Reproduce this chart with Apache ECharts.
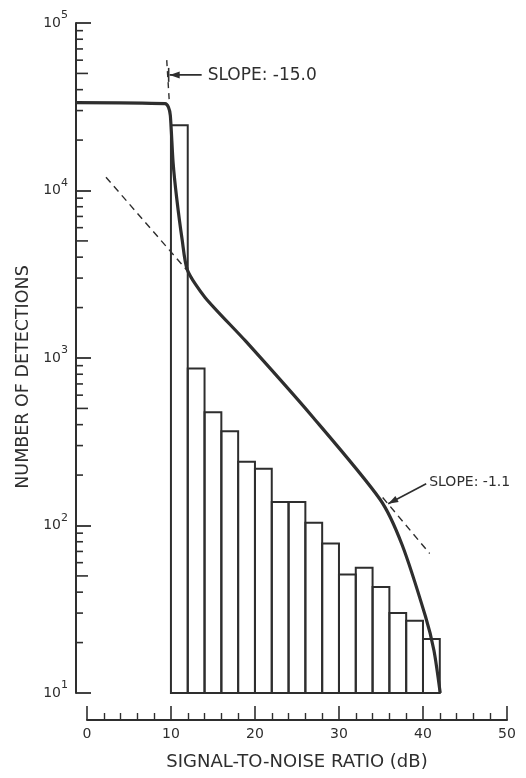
<!DOCTYPE html>
<html>
<head>
<meta charset="utf-8">
<script src="https://cdn.jsdelivr.net/npm/echarts@6/dist/echarts.min.js"></script>
<style>
html,body{margin:0;padding:0;background:#fff}
#main{width:526px;height:778px}
</style>
</head>
<body>
<div id="main"></div>
<script>
// histogram: bin edges (dB) and detections per bin
var binEdges = [10,12,14,16,18,20,22,24,26,28,30,32,34,36,38,40,42];
var binCounts = [24500,865,475,365,240,218,138,138,104,78,51,56,43,30,27,21];

// fitted curve [dB, detections]
var curve = [[-1.3,33500],[9.3,33000],[9.7,31500],[9.93,28000],[10.26,14600],[10.67,9150],
  [11.34,5060],[11.96,3350],[14.06,2300],[18.9,1260],[26.8,449],[34.9,143],
  [37.5,77],[40.3,28.6],[41.3,18],[42.05,10]];

// dashed tangents
var tangentSteep = [[9.5,60000],[9.82,33000]];
var tangentUpper = [[2.27,12000],[12,3300]];
var tangentLower = [[35.2,147],[40.8,68]];

// minor tick multipliers on the log axis
var decades = [10,100,1000,10000];
var multipliers = [2,3,4,5,6,7,8,9];

var slopeNotes = [
  {text:'SLOPE: -15.0', at:[9.61,49000]},
  {text:'SLOPE: -1.1', at:[35.5,135]}
];

var ink = '#2e2e2e';
var font = 'DejaVu Sans';
var X_MIN = -1.3;

var chart = echarts.init(document.getElementById('main'));

var minorTicks = [];
decades.forEach(function(d){
  multipliers.forEach(function(m){ minorTicks.push([X_MIN, d*m, m]); });
});

var bars = binCounts.map(function(c,i){ return [binEdges[i], binEdges[i+1], c]; });

var option = {
  backgroundColor:'#fff',
  animation:false,
  grid:[
    {left:76, right:19, top:23, bottom:85},
    {left:87, right:19, top:693, bottom:58}
  ],
  xAxis:[
    {type:'value', gridIndex:0, min:X_MIN, max:50, show:false},
    {type:'value', gridIndex:1, min:0, max:50, interval:10, position:'bottom',
     axisLine:{show:true, lineStyle:{color:ink, width:2}},
     axisTick:{show:true, inside:true, length:14, lineStyle:{color:ink, width:1.6}},
     minorTick:{show:true, splitNumber:5, length:7, lineStyle:{color:ink, width:1.4}},
     splitLine:{show:false},
     axisLabel:{margin:7, fontSize:14, color:ink, fontFamily:font}
    }
  ],
  yAxis:[
    {type:'log', gridIndex:0, min:10, max:100000, logBase:10,
     axisLine:{show:true, onZero:false, lineStyle:{color:ink, width:2}},
     axisTick:{show:true, inside:true, length:15, lineStyle:{color:ink, width:1.8}},
     splitLine:{show:false},
     axisLabel:{
       margin:8, color:ink, fontFamily:font,
       formatter:function(v){ return '{b|10}{s|' + Math.round(Math.log10(v)) + '}'; },
       rich:{
         b:{fontSize:14, lineHeight:26, fontFamily:font, color:ink},
         s:{fontSize:11, lineHeight:12, verticalAlign:'top', fontFamily:font, color:ink}
       }
     }
    },
    {type:'value', gridIndex:1, show:false, min:0, max:1}
  ],
  series:[
    {
      type:'custom', xAxisIndex:0, yAxisIndex:0, data:bars, encode:{x:[0,1], y:2},
      renderItem:function(params, api){
        var p0 = api.coord([api.value(0), api.value(2)]);
        var p1 = api.coord([api.value(1), 10]);
        return {type:'rect', shape:{x:p0[0], y:p0[1], width:p1[0]-p0[0], height:p1[1]-p0[1]},
          style:{fill:'none', stroke:ink, lineWidth:2}};
      }
    },
    {
      type:'custom', xAxisIndex:0, yAxisIndex:0, data:minorTicks, encode:{x:0, y:1},
      renderItem:function(params, api){
        var p = api.coord([api.value(0), api.value(1)]);
        var len = api.value(2) === 5 ? 12 : 7;
        return {type:'line', shape:{x1:p[0], y1:p[1], x2:p[0]+len, y2:p[1]},
          style:{stroke:ink, lineWidth:1.6}};
      }
    },
    {type:'line', data:tangentSteep, symbol:'none', lineStyle:{color:ink, width:1.4, type:[6,5]}},
    {type:'line', data:tangentUpper, symbol:'none', lineStyle:{color:ink, width:1.4, type:[7,5]}},
    {type:'line', data:tangentLower, symbol:'none', lineStyle:{color:ink, width:1.4, type:[7,5]}},
    {type:'line', data:curve, symbol:'none', smooth:0.25,
     lineStyle:{color:ink, width:3.2}, z:5}
  ]
};
chart.setOption(option);

// annotations anchored to data coordinates
var px = function(p){ return chart.convertToPixel({gridIndex:0}, p); };
var t1 = px(slopeNotes[0].at); t1[0] += 2;
var tail1 = [t1[0]+32, t1[1]];
var t2 = px(slopeNotes[1].at); t2[0] += 3;
var tail2 = [t2[0]+38, t2[1]-20];
function arrowHead(tip, tail){
  var dx = tail[0]-tip[0], dy = tail[1]-tip[1], l = Math.sqrt(dx*dx+dy*dy);
  var ux = dx/l, uy = dy/l, h = 10, w = 3.5;
  return [tip, [tip[0]+ux*h-uy*w, tip[1]+uy*h+ux*w], [tip[0]+ux*h+uy*w, tip[1]+uy*h-ux*w]];
}
var graphic = [
  {type:'line', shape:{x1:t1[0], y1:t1[1], x2:tail1[0], y2:tail1[1]}, style:{stroke:ink, lineWidth:1.6}},
  {type:'line', shape:{x1:t1[0]-1, y1:t1[1]-7, x2:t1[0]-1, y2:t1[1]+7}, style:{stroke:ink, lineWidth:1.6}},
  {type:'polygon', shape:{points:arrowHead(t1, tail1)}, style:{fill:ink}},
  {type:'text', x:tail1[0]+6, y:tail1[1]+1, style:{text:slopeNotes[0].text, fill:ink, font:'17px "DejaVu Sans"', verticalAlign:'middle'}},
  {type:'line', shape:{x1:t2[0], y1:t2[1], x2:tail2[0], y2:tail2[1]}, style:{stroke:ink, lineWidth:1.6}},
  {type:'polygon', shape:{points:arrowHead(t2, tail2)}, style:{fill:ink}},
  {type:'text', x:tail2[0]+3, y:tail2[1]-1, style:{text:slopeNotes[1].text, fill:ink, font:'14px "DejaVu Sans"', verticalAlign:'middle'}},
  {type:'text', x:23, y:377, rotation:Math.PI/2, style:{text:'NUMBER OF DETECTIONS', fill:ink, font:'17.5px "DejaVu Sans"', align:'center', verticalAlign:'middle'}},
  {type:'text', x:297, y:762, style:{text:'SIGNAL-TO-NOISE RATIO (dB)', fill:ink, font:'18px "DejaVu Sans"', align:'center', verticalAlign:'middle'}}
];
chart.setOption({graphic:graphic});
</script>
</body>
</html>
